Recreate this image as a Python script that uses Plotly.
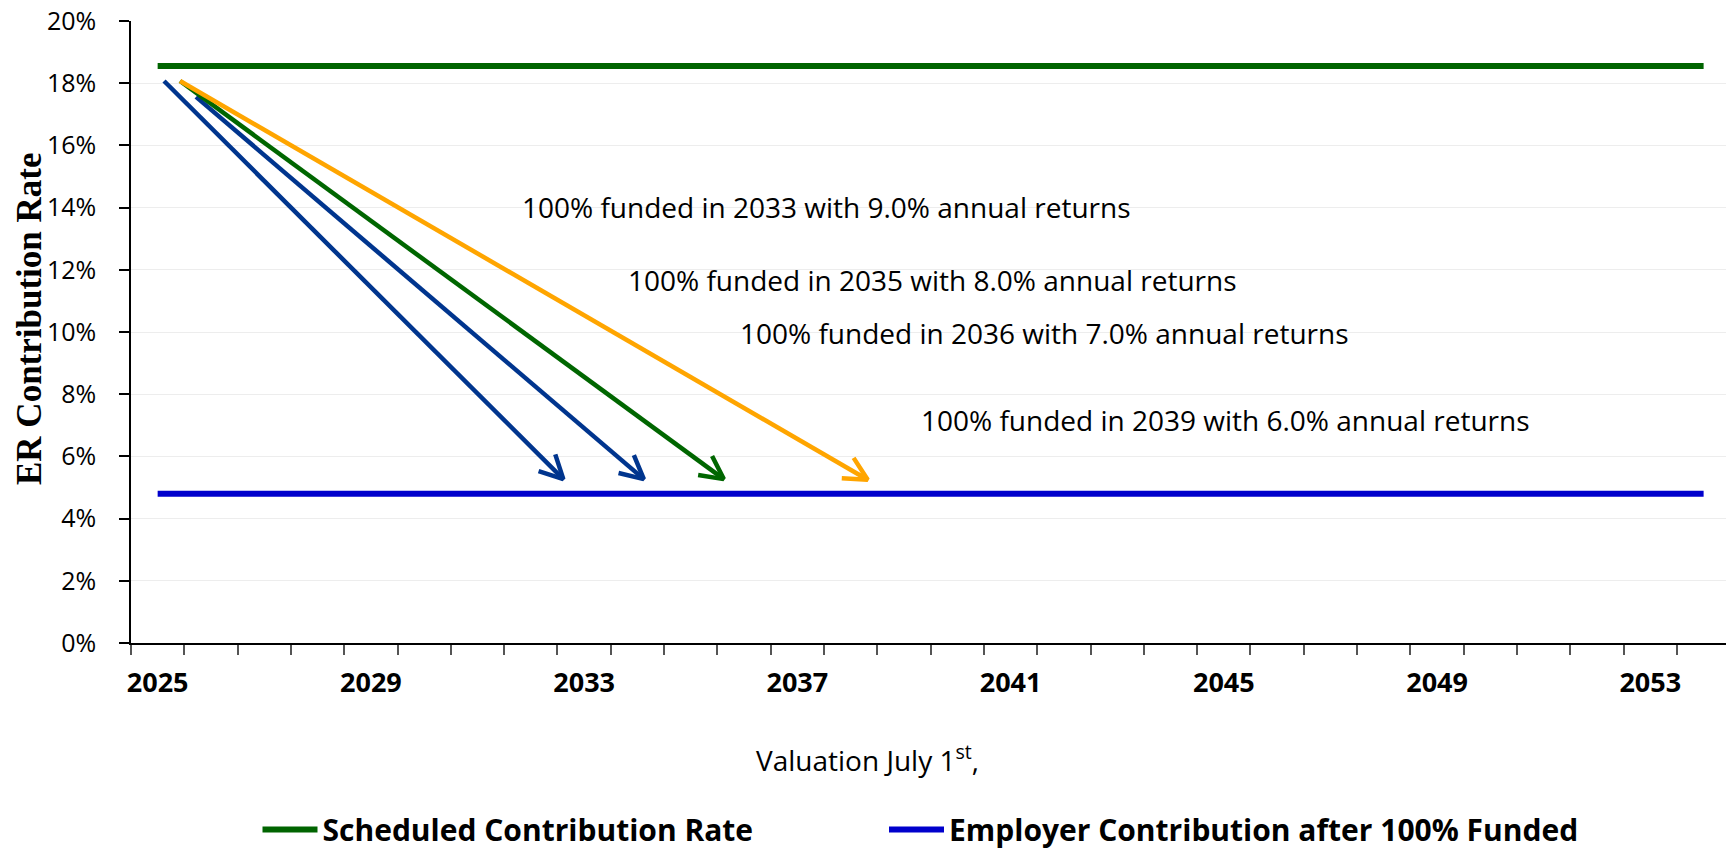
import math
import plotly.graph_objects as go

# ---------------- data ----------------
YEARS = [2025, 2026, 2027, 2028, 2029, 2030, 2031, 2032, 2033, 2034,
         2035, 2036, 2037, 2038, 2039, 2040, 2041, 2042, 2043, 2044,
         2045, 2046, 2047, 2048, 2049, 2050, 2051, 2052, 2053, 2054]
SCHEDULED_RATE = [18.55, 18.55, 18.55, 18.55, 18.55, 18.55, 18.55, 18.55, 18.55, 18.55,
                  18.55, 18.55, 18.55, 18.55, 18.55, 18.55, 18.55, 18.55, 18.55, 18.55,
                  18.55, 18.55, 18.55, 18.55, 18.55, 18.55, 18.55, 18.55, 18.55, 18.55]
EMPLOYER_AFTER_FUNDED = [4.8, 4.8, 4.8, 4.8, 4.8, 4.8, 4.8, 4.8, 4.8, 4.8,
                         4.8, 4.8, 4.8, 4.8, 4.8, 4.8, 4.8, 4.8, 4.8, 4.8,
                         4.8, 4.8, 4.8, 4.8, 4.8, 4.8, 4.8, 4.8, 4.8, 4.8]
SERIES_NAMES = ["Scheduled Contribution Rate", "Employer Contribution after 100% Funded"]

XTICK_VALS = [2025, 2029, 2033, 2037, 2041, 2045, 2049, 2053]
XTICK_TEXT = ["2025", "2029", "2033", "2037", "2041", "2045", "2049", "2053"]
YTICK_VALS = [0, 2, 4, 6, 8, 10, 12, 14, 16, 18, 20]
YTICK_TEXT = ["0%", "2%", "4%", "6%", "8%", "10%", "12%", "14%", "16%", "18%", "20%"]

# arrows (start year, start rate) -> (end year, end rate)
ARROW_X0 = [2025.12, 2025.72, 2025.42, 2025.42]
ARROW_Y0 = [18.07, 17.56, 18.07, 18.07]
ARROW_X1 = [2032.61, 2034.12, 2035.62, 2038.32]
ARROW_Y1 = [5.27, 5.27, 5.27, 5.25]

NOTE_TEXT = ["100% funded in 2033 with 9.0% annual returns",
             "100% funded in 2035 with 8.0% annual returns",
             "100% funded in 2036 with 7.0% annual returns",
             "100% funded in 2039 with 6.0% annual returns"]
NOTE_X = [2037.55, 2039.54, 2041.64, 2045.04]
NOTE_Y = [14.02, 11.68, 9.98, 7.16]

# ---------------- style ----------------
W, H = 1726, 851
ML, MR, MT, MB = 131, 0, 21, 208
X_RANGE = [2024.5, 2054.42]
Y_RANGE = [0, 20]
PX_PER_X = (W - ML - MR) / (X_RANGE[1] - X_RANGE[0])
PX_PER_Y = (H - MT - MB) / (Y_RANGE[1] - Y_RANGE[0])

GREEN = "#006400"
BLUE = "#0000CC"
ARROW_COLORS = ["#00358E", "#00358E", "#006600", "#FFA500"]
HEAD_LEN = 26
HEAD_HALF_ANGLE = 27
SANS = "Open Sans"


def arrow_head(x0, y0, x1, y1):
    bx = (x0 - x1) * PX_PER_X
    by = -(y0 - y1) * PX_PER_Y
    n = math.hypot(bx, by)
    ux, uy = bx / n, by / n
    pts = []
    for s in (1, -1):
        a = math.radians(HEAD_HALF_ANGLE * s)
        rx = ux * math.cos(a) - uy * math.sin(a)
        ry = ux * math.sin(a) + uy * math.cos(a)
        pts.append((x1 + rx * HEAD_LEN / PX_PER_X, y1 - ry * HEAD_LEN / PX_PER_Y))
    return pts


fig = go.Figure()
fig.add_trace(go.Scatter(x=YEARS, y=SCHEDULED_RATE, mode="lines", name=SERIES_NAMES[0],
                         legend="legend", line=dict(color=GREEN, width=6)))
fig.add_trace(go.Scatter(x=YEARS, y=EMPLOYER_AFTER_FUNDED, mode="lines", name=SERIES_NAMES[1],
                         legend="legend2", line=dict(color=BLUE, width=6)))

for x0, y0, x1, y1, c in zip(ARROW_X0, ARROW_Y0, ARROW_X1, ARROW_Y1, ARROW_COLORS):
    (ax1, ay1), (ax2, ay2) = arrow_head(x0, y0, x1, y1)
    fig.add_trace(go.Scatter(x=[x0, x1, None, ax1, x1, ax2],
                             y=[y0, y1, None, ay1, y1, ay2],
                             mode="lines", showlegend=False, hoverinfo="skip",
                             line=dict(color=c, width=4.5)))

annotations = []
for t, x, y in zip(NOTE_TEXT, NOTE_X, NOTE_Y):
    annotations.append(dict(text=t, x=x, y=y, xref="x", yref="y", showarrow=False,
                            xanchor="center", yanchor="middle",
                            font=dict(family=SANS, size=28, color="black")))
annotations.append(dict(text="ER Contribution Rate", textangle=-90, xref="paper", yref="paper",
                        x=0, y=0.5, xshift=-102, yshift=13, showarrow=False,
                        xanchor="center", yanchor="middle",
                        font=dict(family="Liberation Serif", size=35, color="black", weight="bold")))
annotations.append(dict(text="Valuation July 1<sup>st</sup>,", xref="paper", yref="paper",
                        x=0.462, y=0, yshift=-115, showarrow=False,
                        xanchor="center", yanchor="middle",
                        font=dict(family=SANS, size=28, color="black")))

legend_common = dict(orientation="h", y=-0.3, xanchor="left", yanchor="middle",
                     itemwidth=55,
                     font=dict(family=SANS, size=30, color="black", weight="bold"),
                     bgcolor="rgba(0,0,0,0)")

# legend x positions (paper) computed for the full-window figure
LEG1_X = (257.5 - ML) / (W - ML - MR)
LEG2_X = (884.0 - ML) / (W - ML - MR)

fig.update_layout(
    width=W, height=H,
    margin=dict(l=ML, r=MR, t=MT, b=MB, autoexpand=False),
    paper_bgcolor="white", plot_bgcolor="white",
    showlegend=True,
    legend=dict(x=LEG1_X, **legend_common),
    legend2=dict(x=LEG2_X, **legend_common),
    annotations=annotations,
    xaxis=dict(range=X_RANGE, showgrid=False, zeroline=False,
               showline=True, linecolor="black", linewidth=1.5,
               tickmode="array", tickvals=XTICK_VALS, ticktext=XTICK_TEXT, ticks="",
               ticklabelstandoff=15,
               tickfont=dict(family=SANS, size=27, color="black", weight="bold"),
               minor=dict(tickmode="array", tickvals=[y - 0.5 for y in YEARS],
                          ticks="outside", ticklen=10, tickwidth=1.5, tickcolor="#555555",
                          showgrid=False)),
    yaxis=dict(range=Y_RANGE, zeroline=False, showgrid=True, gridcolor="#EDEDED", gridwidth=1,
               showline=True, linecolor="black", linewidth=1.5,
               tickmode="array", tickvals=YTICK_VALS, ticktext=YTICK_TEXT,
               ticks="outside", ticklen=10, tickwidth=1.5, tickcolor="black",
               ticklabelstandoff=18, ticklabeloverflow="allow",
               tickfont=dict(family=SANS, size=25, color="black")),
)

fig.write_html("out.html", config={"displayModeBar": False},
               post_script="document.body.style.margin='0';document.body.style.overflow='hidden';")
